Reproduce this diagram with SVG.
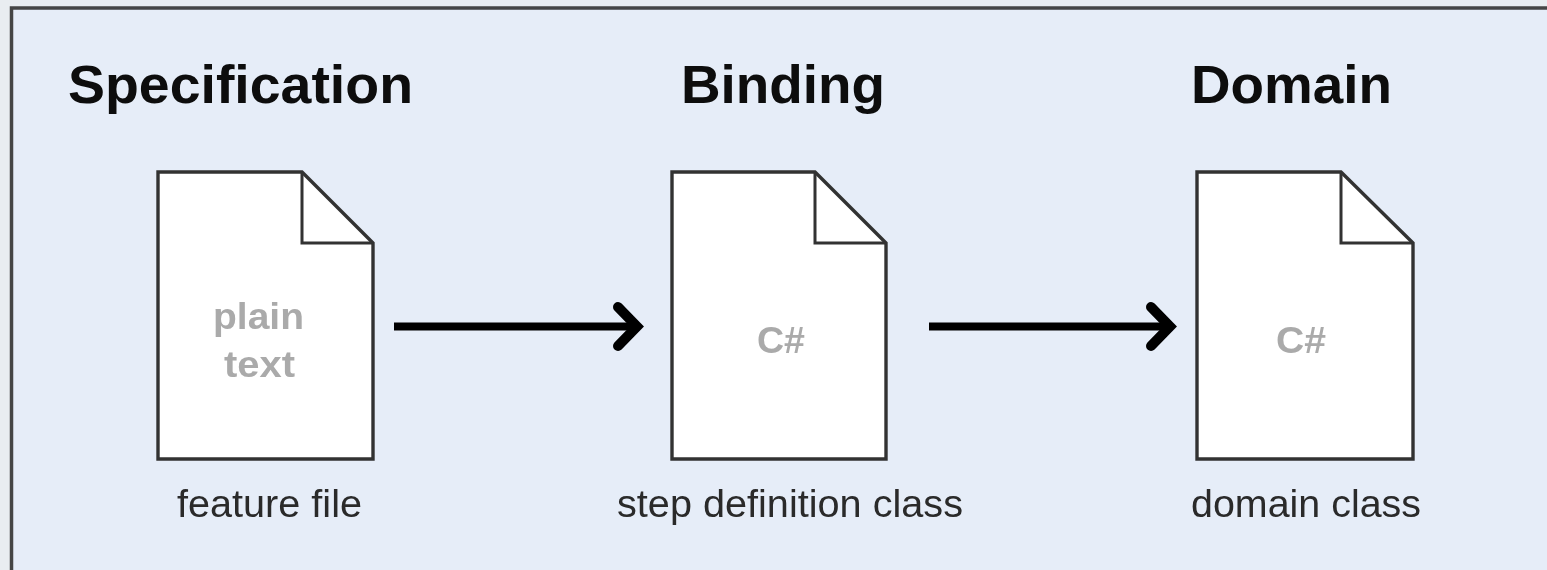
<svg xmlns="http://www.w3.org/2000/svg" width="1547" height="570" viewBox="0 0 1547 570">
<defs><filter id="soft" x="-2%" y="-2%" width="104%" height="104%"><feGaussianBlur stdDeviation="0.7"/></filter></defs>
<style>
text{font-family:"Liberation Sans",Arial,sans-serif;text-anchor:middle}
.h{font-size:54px;font-weight:700;fill:#0a0a0a}
.c{font-size:38px;fill:#2a2a2a}
.g{font-size:37px;font-weight:700;fill:#aaaaaa}
.d{fill:#fff;stroke:#333;stroke-width:3.4}
.f{fill:none;stroke:#333;stroke-width:3}
.a{fill:none;stroke:#000;stroke-width:8}
.t{fill:none;stroke:#000;stroke-width:10;stroke-linecap:round;stroke-linejoin:miter}
</style>
<rect width="1547" height="570" fill="#e9edf1"/>
<g filter="url(#soft)">
<rect id="panel" x="11.5" y="8" width="1560" height="600" fill="#e6edf8" stroke="#444" stroke-width="3.5"/>
<text class="h" x="240.5" y="103" textLength="345" lengthAdjust="spacingAndGlyphs">Specification</text>
<text class="h" x="783" y="103" textLength="204" lengthAdjust="spacingAndGlyphs">Binding</text>
<text class="h" x="1291.5" y="103" textLength="201" lengthAdjust="spacingAndGlyphs">Domain</text>
<g id="connectors">
<path class="a" d="M394 326.5H634"/>
<path class="t" d="M618 307L637 326.500L618 346"/>
<path class="a" d="M929 326.500H1167"/>
<path class="t" d="M1151 307L1170 326.500L1151 346"/>
</g>
<g id="feature-file">
<path class="d" d="M158 172H302L373 243V459H158Z"/>
<path class="f" d="M302 172V243H373"/>
<text class="g" x="258.500" y="329" textLength="91" lengthAdjust="spacingAndGlyphs">plain</text>
<text class="g" x="259.500" y="377" textLength="71" lengthAdjust="spacingAndGlyphs">text</text>
<text class="c" x="269.500" y="517" textLength="185" lengthAdjust="spacingAndGlyphs">feature file</text>
</g>
<g id="step-definition-class">
<path class="d" d="M672 172H815L886 243V459H672Z"/>
<path class="f" d="M815 172V243H886"/>
<text class="g" x="781" y="353" textLength="48" lengthAdjust="spacingAndGlyphs">C#</text>
<text class="c" x="790" y="517" textLength="346" lengthAdjust="spacingAndGlyphs">step definition class</text>
</g>
<g id="domain-class">
<path class="d" d="M1197 172H1341L1413 243V459H1197Z"/>
<path class="f" d="M1341 172V243H1413"/>
<text class="g" x="1301" y="353" textLength="50" lengthAdjust="spacingAndGlyphs">C#</text>
<text class="c" x="1306" y="517" textLength="230" lengthAdjust="spacingAndGlyphs">domain class</text>
</g>
</g>
</svg>
